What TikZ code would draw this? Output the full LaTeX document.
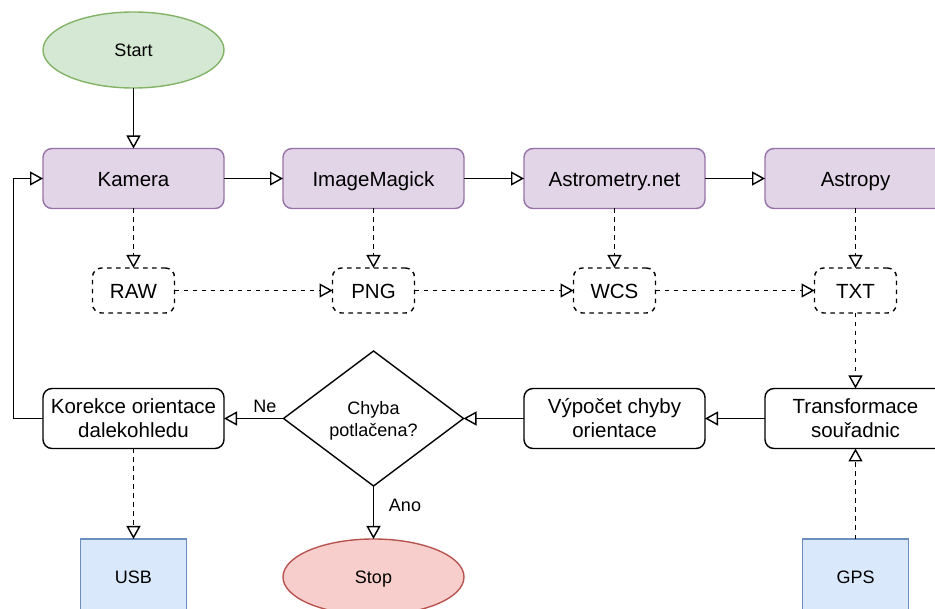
\documentclass[tikz,border=0pt]{standalone}
\usepackage{fontspec}
\setmainfont{Liberation Sans}
\usetikzlibrary{arrows.meta,shapes.geometric}
\definecolor{gfill}{HTML}{D5E8D4}
\definecolor{gdraw}{HTML}{82B366}
\definecolor{pfill}{HTML}{E1D5E7}
\definecolor{pdraw}{HTML}{9673A6}
\definecolor{rfill}{HTML}{F8CECC}
\definecolor{rdraw}{HTML}{B85450}
\definecolor{bfill}{HTML}{DAE8FC}
\definecolor{bdraw}{HTML}{6C8EBF}
\newcommand\myTopBig{\rule{0pt}{20pt}}
\newcommand\myBotBig{\rule[-5pt]{0pt}{5pt}}
\newcommand\myTopSmall{\rule{0pt}{18pt}}
\newcommand\myBotSmall{\rule[-3.5pt]{0pt}{3.5pt}}
\begin{document}
\begin{tikzpicture}[x=1pt,y=-1pt,
  every node/.style={inner sep=0pt, outer sep=0pt, align=center},
  big/.style={font=\fontsize{20.5}{24}\selectfont},
  small/.style={font=\fontsize{18}{21.5}\selectfont},
  bigone/.style={big, text height=17pt, text depth=0pt},
  smallone/.style={small, text height=13.4pt, text depth=0pt},
  proc/.style={bigone, rectangle, rounded corners=9pt, draw=pdraw, fill=pfill, line width=1.4pt, minimum width=181pt, minimum height=60pt},
  plain/.style={big, rectangle, rounded corners=9pt, draw=black, line width=1.4pt, minimum width=181pt, minimum height=60pt},
  datab/.style={bigone, rectangle, rounded corners=9pt, draw=black, line width=1.4pt, dash pattern=on 4.5pt off 4.5pt, minimum width=82pt, minimum height=45pt},
  term/.style={smallone, ellipse, line width=1.4pt, minimum width=181pt, minimum height=76pt},
  hw/.style={smallone, rectangle, draw=bdraw, fill=bfill, line width=1.4pt, minimum width=106pt, minimum height=76pt},
  arr/.style={-{Triangle[open,length=13pt,width=14pt]}, line width=1.4pt},
  darr/.style={arr, dash pattern=on 4.5pt off 4.5pt},
  lbl/.style={small}
]
\useasboundingbox (0,0) rectangle (935,609);
\clip (0,0) rectangle (935,609);

\node[term, draw=gdraw, fill=gfill] (start) at (133.5,50) {Start};

\node[proc] (kam) at (133.5,178.5) {Kamera};
\node[proc] (img) at (373.5,178.5) {ImageMagick};
\node[proc] (ast) at (614.5,178.5) {Astrometry.net};
\node[proc] (apy) at (855.5,178.5) {Astropy};

\node[datab] (raw) at (133.5,290.5) {RAW};
\node[datab] (png) at (373.5,290.5) {PNG};
\node[datab] (wcs) at (614.5,290.5) {WCS};
\node[datab] (txt) at (855.5,290.5) {TXT};

\node[plain] (kor) at (133.5,418.5) {\myTopBig Korekce orientace\\dalekohledu\myBotBig};
\node[small, diamond, draw=black, line width=1.4pt, aspect=1.333, minimum width=180pt, minimum height=135pt] (dec) at (373.5,418.5) {\myTopSmall Chyba\\potlačena?\myBotSmall};
\node[plain] (vyp) at (614.5,418.5) {\myTopBig Výpočet chyby\\orientace\myBotBig};
\node[plain] (tra) at (855.5,418.5) {\myTopBig Transformace\\souřadnic\myBotBig};

\node[hw] (usb) at (133.5,577) {USB};
\node[term, draw=rdraw, fill=rfill] (stop) at (373.5,577) {Stop};
\node[hw] (gps) at (855.5,577) {GPS};

\draw[arr] (start) -- (kam);
\draw[arr] (kam) -- (img);
\draw[arr] (img) -- (ast);
\draw[arr] (ast) -- (apy);

\draw[darr] (kam) -- (raw);
\draw[darr] (img) -- (png);
\draw[darr] (ast) -- (wcs);
\draw[darr] (apy) -- (txt);

\draw[darr] (raw) -- (png);
\draw[darr] (png) -- (wcs);
\draw[darr] (wcs) -- (txt);

\draw[darr] (txt) -- (tra);
\draw[arr] (tra) -- (vyp);
\draw[arr] (vyp) -- (dec);
\draw[arr] (dec.west) -- (kor.east);
\node[lbl] (ne) at (265,406) {Ne};
\draw[arr] (dec.south) -- (stop.north);
\node[lbl] (ano) at (405,505) {Ano};

\draw[darr] (kor) -- (usb);
\draw[darr] (gps) -- (tra);
\draw[arr] (kor.west) -- ++(-29.5,0) |- (kam.west);
\end{tikzpicture}
\end{document}
